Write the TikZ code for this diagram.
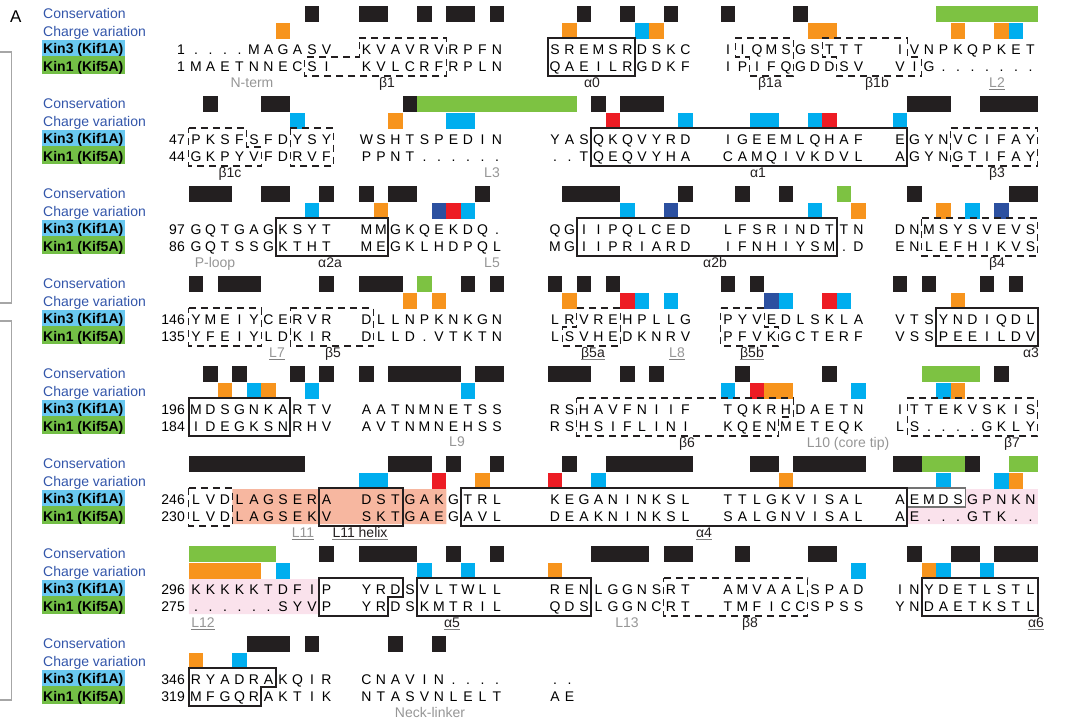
\documentclass[tikz,border=0pt]{standalone}
\usepackage{fontspec}
\setmainfont{Liberation Sans}
\usepackage{xcolor}
\definecolor{consblk}{RGB}{35,31,32}
\definecolor{consgrn}{RGB}{125,194,66}
\definecolor{chorg}{RGB}{247,148,29}
\definecolor{chcyn}{RGB}{0,174,239}
\definecolor{chred}{RGB}{237,28,36}
\definecolor{chblu}{RGB}{44,80,160}
\definecolor{lblblue}{RGB}{50,85,170}
\definecolor{kinthree}{RGB}{105,200,240}
\definecolor{kinone}{RGB}{115,190,70}
\definecolor{salmon}{RGB}{247,183,160}
\definecolor{lightpink}{RGB}{250,226,236}
\definecolor{loopgray}{RGB}{150,150,150}
\usetikzlibrary{positioning}

% column centres: five groups of ten residues
\def\gstarts{{196,366.5,555,728,900}}
\pgfmathdeclarefunction{colx}{1}{\pgfmathparse{\gstarts[int(#1/10)]+14.5*mod(#1,10)}}

\newcount\rescol
\makeatletter
% one sequence line: block, name, baseline, first number, residues
\newcommand{\seqrow}[5]{%
  \rescol=0
  \pgfmathsetmacro\yb{90*#1+#3}%
  \node[num] (#2-#1-n) at (185,\yb) {#4};%
  \@tfor\ch:=#5\do{%
    \pgfmathsetmacro\xc{colx(\the\rescol)}%
    \node[res] (#2-#1-\the\rescol) at (\xc,\yb) {\ch};%
    \advance\rescol by 1 }}
\makeatother

% coloured cells: block, top, list from/to/colour
\newcommand{\cells}[3]{%
  \foreach \a/\b/\c in {#3}{%
    \pgfmathsetmacro\xl{colx(\a)-7.25}%
    \pgfmathsetmacro\xr{colx(\b)+7.25}%
    \pgfmathsetmacro\yt{90*#1+#2}%
    \fill[\c] (\xl,\yt) rectangle (\xr,\yt+16);}}
\newcommand{\consrow}[2]{\cells{#1}{6}{#2}}
\newcommand{\chgrow}[2]{\cells{#1}{23.3}{#2}}

% secondary structure outline: style, block, top from/to, bottom from/to
\newcommand{\ssel}[6]{%
  \pgfmathsetmacro\by{90*#2}%
  \pgfmathsetmacro\xa{colx(#3)-7.25}%
  \pgfmathsetmacro\xb{colx(#4)+7.25}%
  \pgfmathsetmacro\xc{colx(#5)-7.25}%
  \pgfmathsetmacro\xd{colx(#6)+7.25}%
  \path[#1] (\xa,\by+38) -- (\xb,\by+38) -- (\xb,\by+57) -- (\xd,\by+57)
    -- (\xd,\by+76) -- (\xc,\by+76) -- (\xc,\by+57) -- (\xa,\by+57) -- cycle;}
% outline on the Kin3 line only: style, block, from, to
\newcommand{\sstop}[4]{%
  \pgfmathsetmacro\by{90*#2}%
  \pgfmathsetmacro\xa{colx(#3)-7.25}%
  \pgfmathsetmacro\xb{colx(#4)+7.25}%
  \path[#1] (\xa,\by+38) rectangle (\xb,\by+57);}
% shaded region behind residues
\newcommand{\ssfill}[6]{%
  \pgfmathsetmacro\by{90*#2}%
  \pgfmathsetmacro\xa{colx(#3)-7.25}%
  \pgfmathsetmacro\xb{colx(#4)+7.25}%
  \pgfmathsetmacro\xc{colx(#5)-7.25}%
  \pgfmathsetmacro\xd{colx(#6)+7.25}%
  \fill[#1] (\xa,\by+39) -- (\xb,\by+39) -- (\xb,\by+57) -- (\xd,\by+57)
    -- (\xd,\by+74) -- (\xc,\by+74) -- (\xc,\by+57) -- (\xa,\by+57) -- cycle;}

\begin{document}
\begin{tikzpicture}[x=1pt, y=-1pt,
    res/.style={font=\fontsize{14}{14}\selectfont, inner sep=0pt, anchor=base},
    num/.style={font=\fontsize{14}{14}\selectfont, inner sep=0pt, anchor=base east},
    rowlab/.style={font=\fontsize{14}{14}\selectfont, text=lblblue, inner sep=0pt, anchor=base west},
    kinlab/.style={font=\fontsize{14}{14}\selectfont\bfseries, inner xsep=1.3pt,
                   inner ysep=0pt, anchor=base west},
    helix/.style={draw=consblk, line width=1.6pt},
    strand/.style={draw=consblk, line width=1.3pt, dash pattern=on 7pt off 5pt},
    sslab/.style={font=\fontsize{14}{14}\selectfont, text=consblk, inner sep=0pt, anchor=base},
    looplab/.style={sslab, text=loopgray},
    uline/.style={line width=0.9pt, black!50},
    bracket/.style={draw=black!35, line width=1.3pt}
  ]
  \useasboundingbox (0,0) rectangle (1066,723);

  \node[font=\fontsize{17}{17}\selectfont, inner sep=0pt, anchor=base west] (panel) at (10,22) {A};
  \draw[bracket] (0,52) -- (11.5,52) -- (11.5,303) -- (0,303);
  \draw[bracket] (0,321) -- (11.5,321) -- (11.5,700) -- (0,700);

  % row labels
  \foreach \b in {0,...,7} {
    \node[rowlab] (cons\b) at (43,90*\b+18.3) {Conservation};
    \node[rowlab] (chg\b) at (43,90*\b+36) {Charge variation};
    \node[kinlab, fill=kinthree, text height=14pt, text depth=2.5pt] (kthree\b) at (41.7,90*\b+53.5) {Kin3 (Kif1A)};
    \node[kinlab, fill=kinone, text height=15.7pt, text depth=1.8pt] (kone\b) at (41.7,90*\b+71.7) {Kin1 (Kif5A)};
  }

  % shaded regions
  \ssfill{salmon}{5}{3}{15}{3}{15}
  \ssfill{lightpink}{5}{45}{49}{41}{49}
  \ssfill{lightpink}{6}{0}{8}{0}{8}

  % Block 1
  \consrow{0}{8/8/consblk, 10/11/consblk, 14/14/consblk, 16/17/consblk, 19/19/consblk,
    22/22/consblk, 25/25/consblk, 28/28/consblk, 30/30/consblk, 35/35/consblk, 43/49/consgrn}
  \chgrow{0}{6/6/chorg, 21/21/chorg, 26/26/chcyn, 27/27/chorg, 36/37/chorg, 44/44/chorg,
    47/47/chorg, 48/48/chcyn}
  \seqrow{0}{kt}{54.5}{1}{....MAGASV KVAVRVRPFN SREMSRDSKC IIQMSGSTTT IVNPKQPKET}
  \seqrow{0}{ko}{71.7}{1}{MAETNNECSI KVLCRFRPLN QAEILRGDKF IPIFQGDDSV VIG.......}
  \ssel{strand}{0}{10}{15}{8}{15}
  \ssel{helix}{0}{20}{25}{20}{25}
  \ssel{strand}{0}{31}{34}{32}{34}
  \ssel{strand}{0}{37}{40}{38}{41}
  \node[looplab] (nterm) at (252,87) {N-term};
  \node[sslab] (beta1) at (387,87) {β1};
  \node[sslab] (alpha0) at (592,87) {α0};
  \node[sslab] (beta1a) at (770,87) {β1a};
  \node[sslab] (beta1b) at (877,87) {β1b};
  \node[looplab] (loop2) at (997,87) {L2};

  % Block 2
  \consrow{1}{1/1/consblk, 5/6/consblk, 13/13/consblk, 14/21/consgrn, 23/23/consblk,
    25/27/consblk, 41/43/consblk, 46/49/consblk}
  \chgrow{1}{7/7/chcyn, 12/12/chorg, 16/17/chcyn, 24/24/chred, 29/29/chcyn, 32/33/chcyn,
    36/36/chcyn, 37/37/chred, 40/40/chcyn}
  \seqrow{1}{kt}{54.5}{47}{PKSFSFDYSY WSHTSPEDIN YASQKQVYRD IGEEMLQHAF EGYNVCIFAY}
  \seqrow{1}{ko}{71.7}{44}{GKPYVFDRVF PPNT...... ..TQEQVYHA CAMQIVKDVL AGYNGTIFAY}
  \ssel{strand}{1}{0}{3}{0}{4}
  \ssel{strand}{1}{7}{9}{7}{9}
  \ssel{helix}{1}{23}{40}{23}{40}
  \ssel{strand}{1}{44}{49}{44}{49}
  \node[sslab] (beta1c) at (230,177) {β1c};
  \node[looplab] (loop3) at (492,177) {L3};
  \node[sslab] (alpha1) at (758,177) {α1};
  \node[sslab] (beta3) at (997,177) {β3};

  % Block 3
  \consrow{2}{0/2/consblk, 5/6/consblk, 9/9/consblk, 10/10/consblk, 12/13/consblk,
    18/18/consblk, 21/24/consblk, 29/29/consblk, 31/31/consblk, 34/34/consblk,
    38/38/consgrn, 41/41/consblk, 48/49/consblk}
  \chgrow{2}{8/8/chcyn, 11/11/chorg, 15/15/chblu, 16/16/chred, 17/17/chcyn, 25/25/chcyn,
    28/28/chblu, 36/36/chcyn, 39/39/chorg, 43/43/chorg, 45/45/chcyn, 47/47/chblu}
  \seqrow{2}{kt}{54.5}{97}{GQTGAGKSYT MMGKQEKDQ. QGIIPQLCED LFSRINDTTN DNMSYSVEVS}
  \seqrow{2}{ko}{71.7}{86}{GQTSSGKTHT MEGKLHDPQL MGIIPRIARD IFNHIYSM.D ENLEFHIKVS}
  \ssel{helix}{2}{6}{11}{6}{11}
  \ssel{helix}{2}{22}{37}{22}{37}
  \ssel{strand}{2}{42}{49}{42}{49}
  \node[looplab] (ploop) at (215,267) {P-loop};
  \node[sslab] (alpha2a) at (330,267) {α2a};
  \node[looplab] (loop5) at (492,267) {L5};
  \node[sslab] (alpha2b) at (715,267) {α2b};
  \node[sslab] (beta4) at (997,267) {β4};

  % Block 4
  \consrow{3}{0/0/consblk, 2/4/consblk, 9/9/consblk, 10/12/consblk, 14/14/consgrn,
    17/17/consblk, 19/19/consblk, 20/20/consblk, 22/22/consblk, 24/24/consblk,
    30/30/consblk, 32/32/consblk, 40/40/consblk, 42/42/consblk, 46/46/consblk, 48/48/consblk}
  \chgrow{3}{13/13/chorg, 15/15/chorg, 21/21/chorg, 25/25/chred, 26/26/chcyn, 28/28/chcyn,
    33/33/chblu, 34/34/chcyn, 37/37/chred, 38/38/chcyn, 44/44/chorg}
  \seqrow{3}{kt}{54.5}{146}{YMEIYCERVR DLLNPKNKGN LRVREHPLLG PYVEDLSKLA VTSYNDIQDL}
  \seqrow{3}{ko}{71.7}{135}{YFEIYLDKIR DLLD.VTKTN LSVHEDKNRV PFVKGCTERF VSSPEEILDV}
  \ssel{strand}{3}{0}{4}{0}{4}
  \ssel{strand}{3}{7}{10}{7}{10}
  \ssel{strand}{3}{22}{24}{21}{24}
  \ssel{strand}{3}{30}{32}{30}{33}
  \ssel{helix}{3}{43}{49}{43}{49}
  \node[looplab] (loop7) at (277,357) {L7};
  \node[sslab] (beta5) at (333,357) {β5};
  \node[sslab] (beta5a) at (593,357) {β5a};
  \node[looplab] (loop8) at (677,357) {L8};
  \node[sslab] (beta5b) at (752,357) {β5b};
  \node[sslab] (alpha3) at (1031,357) {α3};

  % Block 5
  \consrow{4}{1/1/consblk, 3/3/consblk, 7/7/consblk, 9/9/consblk, 10/10/consblk,
    12/16/consblk, 18/19/consblk, 20/22/consblk, 25/25/consblk, 27/27/consblk,
    31/31/consblk, 37/37/consblk, 42/45/consgrn, 47/47/consblk}
  \chgrow{4}{2/2/chorg, 4/4/chcyn, 5/5/chorg, 8/8/chcyn, 17/17/chcyn, 30/30/chcyn,
    32/32/chred, 33/34/chorg, 39/39/chcyn, 43/43/chcyn, 44/44/chorg}
  \seqrow{4}{kt}{54.5}{196}{MDSGNKARTV AATNMNETSS RSHAVFNIIF TQKRHDAETN ITTEKVSKIS}
  \seqrow{4}{ko}{71.7}{184}{IDEGKSNRHV AVTNMNEHSS RSHSIFLINI KQENMETEQK LS....GKLY}
  \ssel{helix}{4}{0}{6}{0}{6}
  \ssel{strand}{4}{22}{34}{22}{33}
  \ssel{strand}{4}{41}{49}{41}{49}
  \node[looplab] (loop9) at (457,446) {L9};
  \node[sslab] (beta6) at (687,447) {β6};
  \node[looplab] (loop10) at (848,447) {L10 (core tip)};
  \node[sslab] (beta7) at (1012,447) {β7};

  % Block 6
  \consrow{5}{0/7/consblk, 12/14/consblk, 16/16/consblk, 19/19/consblk, 21/21/consblk,
    24/29/consblk, 32/33/consblk, 35/39/consblk, 40/41/consblk, 42/44/consgrn,
    45/45/consblk, 48/49/consgrn}
  \chgrow{5}{10/11/chcyn, 15/15/chred, 18/18/chorg, 20/20/chred, 23/23/chcyn, 34/34/chorg,
    43/43/chcyn, 47/47/chcyn, 48/48/chorg}
  \seqrow{5}{kt}{54.5}{246}{LVDLAGSERA DSTGAKGTRL KEGANINKSL TTLGKVISAL AEMDSGPNKN}
  \seqrow{5}{ko}{71.7}{230}{LVDLAGSEKV SKTGAEGAVL DEAKNINKSL SALGNVISAL AE...GTK..}
  \ssel{strand}{5}{0}{2}{0}{2}
  \ssel{helix}{5}{9}{12}{9}{12}
  \sstop{draw=black!55, line width=1.2pt}{5}{41}{44}
  \ssel{helix}{5}{17}{40}{17}{40}
  \node[looplab] (loop11) at (303,537) {L11};
  \node[sslab] (helix11) at (360,537) {L11 helix};
  \node[sslab] (alpha4) at (704,537) {α4};

  % Block 7
  \consrow{6}{0/5/consgrn, 9/9/consblk, 10/13/consblk, 16/16/consblk, 19/19/consblk,
    23/26/consblk, 28/29/consblk, 31/31/consblk, 36/37/consblk, 41/41/consblk,
    44/45/consblk, 47/49/consblk}
  \chgrow{6}{0/4/chorg, 6/6/chcyn, 14/14/chcyn, 17/17/chcyn, 20/20/chorg, 39/39/chcyn,
    42/42/chorg, 43/43/chcyn, 46/46/chcyn}
  \seqrow{6}{kt}{54.5}{296}{KKKKKTDFIP YRDSVLTWLL RENLGGNSRT AMVAALSPAD INYDETLSTL}
  \seqrow{6}{ko}{71.7}{275}{......SYVP YRDSKMTRIL QDSLGGNCRT TMFICCSPSS YNDAETKSTL}
  \ssel{helix}{6}{9}{12}{9}{11}
  \ssel{helix}{6}{14}{22}{14}{22}
  \ssel{strand}{6}{28}{35}{28}{35}
  \ssel{helix}{6}{42}{49}{42}{49}
  \node[looplab] (loop12) at (203,627) {L12};
  \node[sslab] (alpha5) at (452,627) {α5};
  \node[looplab] (loop13) at (627,627) {L13};
  \node[sslab] (beta8) at (750,627) {β8};
  \node[sslab] (alpha6) at (1036,627) {α6};

  % Block 8
  \consrow{7}{4/6/consblk, 8/8/consblk, 12/12/consblk, 15/15/consblk}
  \chgrow{7}{0/0/chorg, 3/3/chcyn}
  \seqrow{7}{kt}{54.5}{346}{RYADRAKQIR CNAVIN.... ..}
  \seqrow{7}{ko}{71.7}{319}{MFGQRAKTIK NTASVNLELT AE}
  \ssel{helix}{7}{0}{5}{0}{4}
  \node[looplab] (necklinker) at (430,717) {Neck-linker};

  % underlined labels
  \foreach \n in {loop2, loop7, beta5a, loop8, beta5b, loop11, helix11, alpha4, loop12, alpha5, alpha6}
    \draw[uline] ([yshift=-2pt]\n.base west) -- ([yshift=-2pt]\n.base east);
\end{tikzpicture}
\end{document}
